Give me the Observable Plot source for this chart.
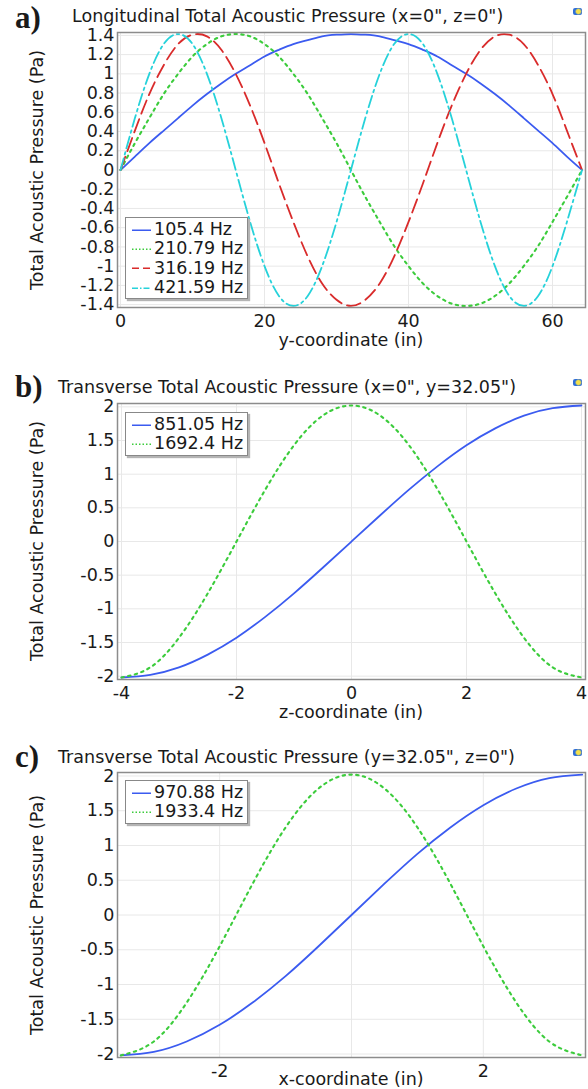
<!DOCTYPE html>
<html><head><meta charset="utf-8">
<script src="https://cdn.jsdelivr.net/npm/d3@7"></script>
<script src="https://cdn.jsdelivr.net/npm/@observablehq/plot@0.6"></script>
<style>
body{margin:0;background:#fff;width:588px;height:1089px;position:relative;overflow:hidden;font-family:"DejaVu Sans",sans-serif;color:#1a1a1a}
.abs{position:absolute;white-space:nowrap;line-height:1}
.title{font-size:17.5px;transform:translateY(-50%)}
.tag{font-family:"Liberation Serif",serif;font-weight:bold;font-size:31px;transform:translateY(-50%)}
.ylab{font-size:17.5px;transform:translate(-50%,-50%) rotate(-90deg)}
.xlab{font-size:17.5px;transform:translate(-50%,-50%)}
.legend{background:#fff;border:1.5px solid #888;box-shadow:2px 2px 1px #b4b4b4;box-sizing:border-box}
.legend .row{position:absolute;left:0;font-size:17.5px;transform:translateY(-50%);display:flex;align-items:center}
.icon{width:9px;height:7px;border-radius:2px;background:radial-gradient(circle at 60% 50%,#f4e04a 0 30%,#2f6fd8 55%)}
</style>
</head><body>
<script>
// ---------- Panel a: longitudinal ----------
const yCoordA = [0,2,4,6,8,10,12,14,16,18,20,22,24,26,28,30,32,34,36,38,40,42,44,46,48,50,52,54,56,58,60,62,64.1];
const p105_4 = [0,0.14,0.28,0.41,0.54,0.67,0.79,0.90,1.00,1.09,1.18,1.25,1.31,1.35,1.39,1.407,1.414,1.407,1.39,1.35,1.31,1.25,1.18,1.09,1.00,0.90,0.79,0.67,0.54,0.41,0.28,0.14,0];
const p210_79 = [0,0.28,0.54,0.79,1.00,1.18,1.31,1.39,1.414,1.39,1.31,1.18,1.00,0.79,0.54,0.28,0,-0.28,-0.54,-0.79,-1.00,-1.18,-1.31,-1.39,-1.414,-1.39,-1.31,-1.18,-1.00,-0.79,-0.54,-0.28,0];
const p316_19 = [0,0.41,0.79,1.09,1.31,1.407,1.39,1.25,1.00,0.67,0.28,-0.14,-0.54,-0.90,-1.18,-1.35,-1.414,-1.35,-1.18,-0.90,-0.54,-0.14,0.28,0.67,1.00,1.25,1.39,1.407,1.31,1.09,0.79,0.41,0];
const p421_59 = [0,0.54,1.00,1.31,1.414,1.31,1.00,0.54,0,-0.54,-1.00,-1.31,-1.414,-1.31,-1.00,-0.54,0,0.54,1.00,1.31,1.414,1.31,1.00,0.54,0,-0.54,-1.00,-1.31,-1.414,-1.31,-1.00,-0.54,0];
const xGridA = [0,20,40,60];
const xTickLabelsA = [0,20,40,60];
const yTicksA = [-1.4,-1.2,-1,-0.8,-0.6,-0.4,-0.2,0,0.2,0.4,0.6,0.8,1,1.2,1.4];

// ---------- Panel b: transverse (z) ----------
const zCoordB = [-4,-3.5,-3,-2.5,-2,-1.5,-1,-0.5,0,0.5,1,1.5,2,2.5,3,3.5,4];
const p851_05 = [-2.02,-1.98,-1.87,-1.68,-1.43,-1.12,-0.77,-0.39,0,0.39,0.77,1.12,1.43,1.68,1.87,1.98,2.02];
const p1692_4 = [-2.02,-1.87,-1.43,-0.77,0,0.77,1.43,1.87,2.02,1.87,1.43,0.77,0,-0.77,-1.43,-1.87,-2.02];
const xGridB = [-4,-2,0,2,4];
const xTickLabelsB = [-4,-2,0,2,4];
const yTicksB = [-2,-1.5,-1,-0.5,0,0.5,1,1.5,2];

// ---------- Panel c: transverse (x) ----------
const xCoordC = [-3.5,-3,-2.5,-2,-1.5,-1,-0.5,0,0.5,1,1.5,2,2.5,3,3.5];
const p970_88 = [-2.02,-1.97,-1.82,-1.58,-1.26,-0.88,-0.45,0,0.45,0.88,1.26,1.58,1.82,1.97,2.02];
const p1933_4 = [-2.02,-1.82,-1.26,-0.45,0.45,1.26,1.82,2.02,1.82,1.26,0.45,-0.45,-1.26,-1.82,-2.02];
const xGridC = [-2,0,2];
const xTickLabelsC = [-2,2];   // the "0" label is hidden under the axis title in the original
const yTicksC = [-2,-1.5,-1,-0.5,0,0.5,1,1.5,2];

const C_BLUE="#3b5bf0", C_GREEN="#3ccc3c", C_RED="#d92b2b", C_CYAN="#26d2da";
const styles = {
  solid:{stroke:C_BLUE, dash:null, w:1.8},
  dot:{stroke:C_GREEN, dash:"2.4,4.4", w:2.1},
  dash:{stroke:C_RED, dash:"14,6", w:1.8},
  dashdot:{stroke:C_CYAN, dash:"12,4,2.4,4", w:1.8}
};
const fmt = d => String(Math.round(d*10)/10).replace("\u2212","-");

function addEl(cls, text, css){
  const e=document.createElement("div"); e.className="abs "+cls; if(text!=null) e.textContent=text;
  Object.assign(e.style, css); document.body.appendChild(e); return e;
}

function panel(o){
  const marks = [
    Plot.gridX(o.xGrid,{stroke:"#e8e8e8",strokeOpacity:1}),
    Plot.gridY(o.yTicks,{stroke:"#e8e8e8",strokeOpacity:1}),
    Plot.axisX(o.xLabels,{tickSize:0,tickPadding:7,tickFormat:fmt,label:null}),
    Plot.axisY(o.yTicks,{tickSize:0,tickPadding:3,tickFormat:fmt,label:null})
  ];
  for(const s of o.series){
    const rows = o.xs.map((x,i)=>({x, p:s.values[i]}));
    const st = styles[s.style];
    marks.push(Plot.line(rows,{x:"x",y:"p",stroke:st.stroke,strokeWidth:st.w,strokeDasharray:st.dash,curve:"natural"}));
  }
  marks.push(Plot.frame({stroke:"#8c8c8c",strokeWidth:1.5}));
  const chart = Plot.plot({
    width:588, height:o.height, marginLeft:117, marginRight:3, marginTop:o.mt, marginBottom:o.mb,
    style:{fontFamily:"DejaVu Sans",fontSize:"17.5px",color:"#1a1a1a",background:"transparent",overflow:"visible"},
    x:{domain:o.xDomain}, y:{domain:o.yDomain},
    marks
  });
  chart.style.position="absolute"; chart.style.left="0px"; chart.style.top=o.top+"px";
  document.body.appendChild(chart);
  const fTop=o.top+o.mt, fBot=o.top+o.height-o.mb;
  addEl("tag", o.tag, {left:"15px", top:o.tagY+"px"});
  addEl("title", o.title, {left:o.titleX+"px", top:o.titleY+"px"});
  addEl("ylab","Total Acoustic Pressure (Pa)",{left:"38px",top:((fTop+fBot)/2)+"px"});
  addEl("xlab",o.xlabel,{left:"351px",top:(fBot+o.xlabOff)+"px"});
  addEl("icon",null,{left:"573px",top:(o.titleY-9)+"px"});
  const lg = addEl("legend",null,{left:"125px",top:o.legTop+"px",width:"123px",height:(o.series.length*19.3+5)+"px"});
  o.series.forEach((s,i)=>{
    const st=styles[s.style];
    const r=document.createElement("div"); r.className="row"; r.style.top=(12+i*19.3)+"px";
    const dash = s.style==="dot"?"1.5,2":s.style==="dash"?"7,4":s.style==="dashdot"?"6,2,1.5,2":null;
    r.innerHTML=`<svg width="28" height="6" style="display:block"><line x1="6" x2="25" y1="3" y2="3" stroke="${st.stroke}" stroke-width="1.3" ${dash?`stroke-dasharray="${dash}"`:""}/></svg><span>${s.name}</span>`;
    lg.appendChild(r);
  });
}

panel({top:0,height:345,mt:32,mb:38,xDomain:[-0.42,64.58],yDomain:[-1.43,1.43],xGrid:xGridA,xLabels:xTickLabelsA,yTicks:yTicksA,xs:yCoordA,
  tag:"a)",tagY:17,title:"Longitudinal Total Acoustic Pressure (x=0\", z=0\")",titleX:72,titleY:17,xlabel:"y-coordinate (in)",xlabOff:34,legTop:217,
  series:[{name:"105.4 Hz",values:p105_4,style:"solid"},{name:"210.79 Hz",values:p210_79,style:"dot"},{name:"316.19 Hz",values:p316_19,style:"dash"},{name:"421.59 Hz",values:p421_59,style:"dashdot"}]});

panel({top:370,height:347,mt:33,mb:38,xDomain:[-4.07,4.07],yDomain:[-2.05,2.05],xGrid:xGridB,xLabels:xTickLabelsB,yTicks:yTicksB,xs:zCoordB,
  tag:"b)",tagY:386,title:"Transverse Total Acoustic Pressure (x=0\", y=32.05\")",titleX:58,titleY:388,xlabel:"z-coordinate (in)",xlabOff:34,legTop:412,
  series:[{name:"851.05 Hz",values:p851_05,style:"solid"},{name:"1692.4 Hz",values:p1692_4,style:"dot"}]});

panel({top:739,height:350,mt:33,mb:32,xDomain:[-3.55,3.55],yDomain:[-2.05,2.05],xGrid:xGridC,xLabels:xTickLabelsC,yTicks:yTicksC,xs:xCoordC,
  tag:"c)",tagY:756,title:"Transverse Total Acoustic Pressure (y=32.05\", z=0\")",titleX:58,titleY:758,xlabel:"x-coordinate (in)",xlabOff:23,legTop:780,
  series:[{name:"970.88 Hz",values:p970_88,style:"solid"},{name:"1933.4 Hz",values:p1933_4,style:"dot"}]});
</script>
</body></html>
